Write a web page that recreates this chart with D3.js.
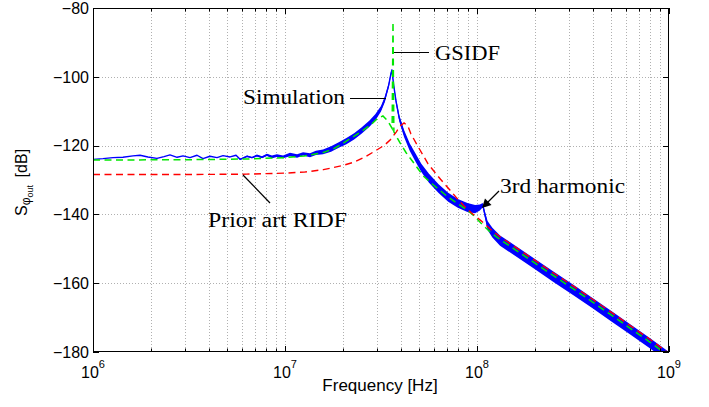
<!DOCTYPE html>
<html><head><meta charset="utf-8">
<script src="https://cdn.jsdelivr.net/npm/d3@7/dist/d3.min.js"></script>
<style>body{margin:0;background:#fff}svg{display:block}</style>
</head><body>
<svg id="chart" width="709" height="407"></svg>
<script>
// ---- data (log10 frequency in Hz, level in dB) ----
const xTickExps = [6, 7, 8, 9];
const yTicks = [-180, -160, -140, -120, -100, -80];

const gsidfLogF = [6.0,6.5,6.8,7.0,7.1,7.2,7.25,7.3,7.35,7.4,7.45,7.48,7.51,7.535,7.558,7.5625,7.567,7.58,7.6,7.63,7.69,7.72,7.77,7.85,7.95,7.98,8.02,8.07,8.12,8.2,8.3,8.4,8.5,8.6,8.7,8.8,8.9,9.0];
const gsidfDB   = [-124.2,-124.1,-123.9,-123.5,-123.0,-122.0,-121.0,-119.4,-117.6,-115.8,-113.8,-112.2,-111.4,-112.8,-115.0,-84.0,-116.0,-117.3,-119.3,-122.0,-126.5,-128.8,-131.3,-135.0,-138.8,-140.2,-142.5,-145.2,-147.3,-150.3,-154.1,-157.9,-161.6,-165.4,-169.3,-173.2,-177.1,-181.2];

const ridfLogF = [6.0,6.5,6.8,7.0,7.1,7.2,7.3,7.36,7.42,7.48,7.52,7.55,7.58,7.6,7.62,7.64,7.655,7.69,7.745,7.81,7.86,7.9,7.93,7.97,8.02,8.07,8.12,8.2,8.3,8.4,8.5,8.6,8.7,8.8,8.9,9.0];
const ridfDB   = [-128.4,-128.4,-128.3,-128.0,-127.7,-127.0,-125.8,-124.8,-123.2,-121.2,-119.8,-118.2,-116.0,-114.3,-113.4,-114.3,-116.5,-120.0,-125.3,-129.8,-133.0,-135.6,-137.4,-139.5,-141.8,-144.3,-146.5,-149.5,-153.3,-157.1,-160.8,-164.6,-168.5,-172.4,-176.3,-180.4];

const simLogF = [6.000,6.052,6.104,6.156,6.208,6.245,6.286,6.333,6.370,6.401,6.438,6.469,6.505,6.542,6.573,6.609,6.646,6.677,6.714,6.745,6.766,6.802,6.828,6.854,6.880,6.906,6.932,6.958,6.990,7.026,7.063,7.094,7.130,7.161,7.198,7.240,7.280,7.320,7.360,7.400,7.440,7.470,7.500,7.520,7.540,7.552,7.557,7.565,7.578,7.595,7.620,7.650,7.680,7.710,7.750,7.800,7.850,7.900,7.950,7.990,8.015,8.030,8.040,8.055,8.080,8.120,8.2,8.3,8.4,8.5,8.6,8.7,8.8,8.9,9.0];
const simDB   = [-124.0,-123.8,-123.5,-123.4,-123.0,-122.8,-123.3,-123.7,-123.2,-122.7,-123.4,-123.0,-123.5,-122.8,-123.8,-123.1,-123.5,-122.9,-123.3,-122.8,-124.0,-123.1,-123.5,-122.9,-123.4,-122.7,-123.3,-122.9,-123.3,-122.6,-123.0,-122.4,-122.8,-122.1,-121.8,-121.0,-119.8,-118.7,-117.3,-115.6,-113.6,-111.8,-109.3,-106.5,-102.5,-99.0,-98.0,-102.0,-107.0,-112.0,-116.5,-120.5,-123.5,-126.5,-129.5,-132.5,-135.0,-136.8,-138.0,-138.5,-138.0,-137.3,-139.8,-143.2,-145.3,-147.6,-150.6,-154.4,-158.2,-161.9,-165.7,-169.6,-173.5,-177.4,-181.5];
const simSpread = [0,0,0,0,0,0,0,0,0,0,0,0,0,0,0,0,0,0,0,0,0.2,0.2,0.2,0.3,0.3,0.3,0.4,0.4,0.4,0.5,0.5,0.5,0.6,0.6,0.7,0.8,0.8,0.9,0.9,0.9,0.9,0.9,0.8,0.8,0.7,0.5,0.3,0.5,0.8,0.9,1.0,1.1,1.2,1.2,1.3,1.3,1.3,1.3,1.3,1.2,0.9,0.6,0.9,1.3,1.4,1.5,1.5,1.5,1.5,1.5,1.5,1.5,1.5,1.5,1.5];

// ---- layout ----
const svg = d3.select("#chart");
const L = 93, R = 669, T = 8, B = 352;
const x = d3.scaleLog().domain([1e6, 1e9]).range([L, R]);
const y = d3.scaleLinear().domain([-180, -80]).range([B, T]);
const sans = "'Liberation Sans', Arial, Helvetica, sans-serif";
const serif = "'Liberation Serif', 'Times New Roman', serif";

svg.append("rect").attr("width", 709).attr("height", 407).attr("fill", "#fff");

// grid
const minorX = [];
for (let e = 6; e < 9; e++) for (let m = 1; m <= 9; m++) minorX.push(m * Math.pow(10, e));
minorX.push(1e9);
const grid = svg.append("g").attr("stroke", "#b0b0b0").attr("stroke-width", 1).attr("stroke-dasharray", "1,2");
minorX.filter(v => v > 1e6 && v < 1e9).forEach(v => {
  const px = Math.round(x(v)) + 0.5;
  grid.append("line").attr("x1", px).attr("x2", px).attr("y1", T).attr("y2", B);
});
yTicks.filter(v => v > -180 && v < -80).forEach(v => {
  const py = Math.round(y(v)) + 0.5;
  grid.append("line").attr("x1", L).attr("x2", R).attr("y1", py).attr("y2", py);
});

// clip
svg.append("clipPath").attr("id", "clip").append("rect").attr("x", L).attr("y", T).attr("width", R - L).attr("height", B - T);
const plot = svg.append("g").attr("clip-path", "url(#clip)");

const zip = (xs, ys) => xs.map((u, i) => ({ f: Math.pow(10, u), v: ys[i] }));
const lineGen = d3.line().x(d => x(d.f)).y(d => y(d.v));

// simulation
const sim = simLogF.map((u, i) => ({ f: Math.pow(10, u), v: simDB[i], s: simSpread[i] }));
plot.append("path").datum(sim)
  .attr("d", d3.area().x(d => x(d.f)).y0(d => y(d.v - d.s)).y1(d => y(d.v + d.s)))
  .attr("fill", "#0000ff");
plot.append("path").datum(sim).attr("d", lineGen)
  .attr("fill", "none").attr("stroke", "#0000ff").attr("stroke-width", 1.4).attr("stroke-linejoin", "round");

// GSIDF
plot.append("path").datum(zip(gsidfLogF, gsidfDB)).attr("d", lineGen)
  .attr("fill", "none").attr("stroke", "#00e600").attr("stroke-width", 1.5).attr("stroke-dasharray", "7,4.5");
// RIDF
plot.append("path").datum(zip(ridfLogF, ridfDB)).attr("d", lineGen)
  .attr("fill", "none").attr("stroke", "#ff0000").attr("stroke-width", 1.4).attr("stroke-dasharray", "7,4.5");

// axes box and ticks
const ax = svg.append("g").attr("stroke", "#000").attr("stroke-width", 1);
ax.append("rect").attr("x", L + 0.5).attr("y", T + 0.5).attr("width", R - L - 1).attr("height", B - T - 1).attr("fill", "none");
minorX.forEach(v => {
  const px = Math.round(x(v)) + 0.5;
  const major = Math.abs(Math.log10(v) - Math.round(Math.log10(v))) < 1e-9;
  const len = major ? 6 : 3.5;
  ax.append("line").attr("x1", px).attr("x2", px).attr("y1", B).attr("y2", B - len);
  ax.append("line").attr("x1", px).attr("x2", px).attr("y1", T).attr("y2", T + len);
});
yTicks.forEach(v => {
  const py = Math.round(y(v)) + 0.5;
  ax.append("line").attr("x1", L).attr("x2", L + 6).attr("y1", py).attr("y2", py);
  ax.append("line").attr("x1", R).attr("x2", R - 6).attr("y1", py).attr("y2", py);
});

// tick labels
yTicks.forEach(v => {
  svg.append("text").attr("x", L - 4).attr("y", y(v) + 5.7)
    .attr("text-anchor", "end").attr("font-family", sans).attr("font-size", 16)
    .text(String(v).replace("-", "\u2212"));
});
xTickExps.forEach(e => {
  const t = svg.append("text").attr("x", x(Math.pow(10, e))).attr("y", 378)
    .attr("text-anchor", "middle").attr("font-family", sans).attr("font-size", 16);
  t.append("tspan").text("10");
  t.append("tspan").attr("font-size", 11).attr("dy", -10).text(String(e));
});

// axis labels
svg.append("text").attr("x", 380).attr("y", 391).attr("text-anchor", "middle")
  .attr("font-family", sans).attr("font-size", 17).text("Frequency [Hz]");
const yl = svg.append("text").attr("transform", "translate(27,216) rotate(-90)")
  .attr("font-family", sans).attr("font-size", 16);
yl.append("tspan").text("S");
yl.append("tspan").attr("font-size", 12).attr("dy", 3).text("\u03c6");
yl.append("tspan").attr("font-size", 9).attr("dy", 3).text("out");
yl.append("tspan").attr("dy", -6).text("\u2009 [dB]");

// annotations
const ann = svg.append("g").attr("stroke", "#000").attr("stroke-width", 1.2);
ann.append("line").attr("x1", 394).attr("y1", 52.5).attr("x2", 429).attr("y2", 52.5);
ann.append("line").attr("x1", 350).attr("y1", 98.5).attr("x2", 386).attr("y2", 98.5);
ann.append("line").attr("x1", 243).attr("y1", 175).attr("x2", 270).attr("y2", 203);
ann.append("line").attr("x1", 499).attr("y1", 191).attr("x2", 487).attr("y2", 203);
svg.append("path").attr("d", "M482,208 L485,198.5 L491.5,205 Z").attr("fill", "#000");

const label = (txt, x0, y0, w) => svg.append("text").attr("x", x0).attr("y", y0)
  .attr("font-family", serif).attr("font-size", 20)
  .attr("textLength", w).attr("lengthAdjust", "spacingAndGlyphs").text(txt);
label("GSIDF", 435, 59.5, 65);
label("Simulation", 243, 104, 102);
label("3rd harmonic", 500, 193, 125);
label("Prior art RIDF", 208, 227, 139);
</script>
</body></html>
